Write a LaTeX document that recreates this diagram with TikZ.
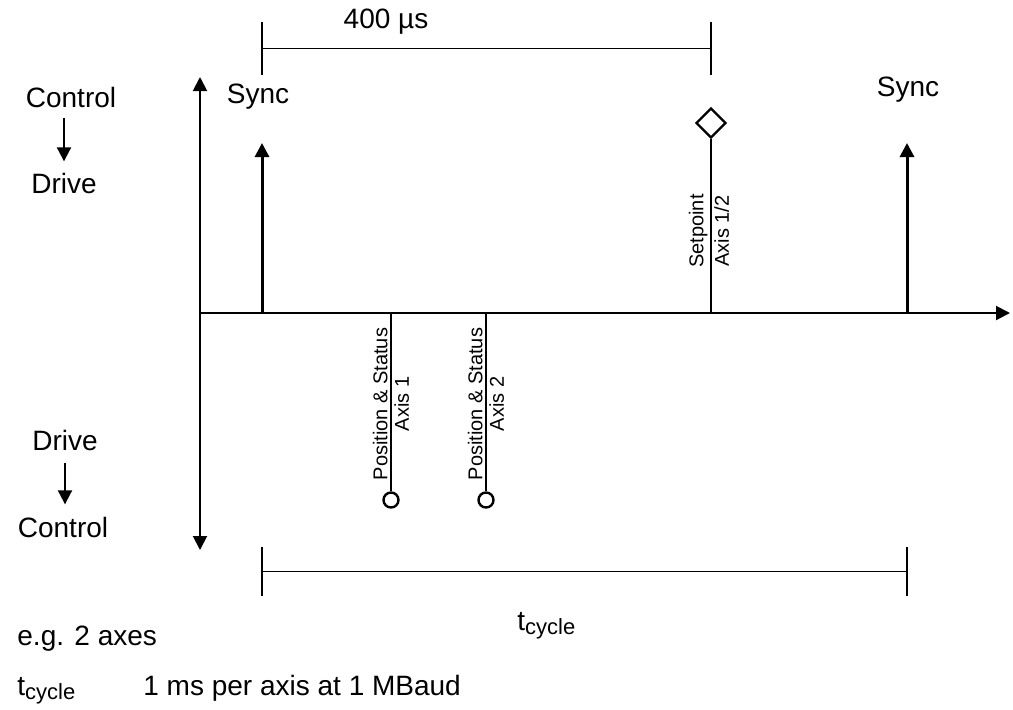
\documentclass[tikz,border=0pt]{standalone}
\usepackage{fontspec}
\setmainfont{Liberation Sans}
\usetikzlibrary{arrows.meta,positioning,shapes.geometric,calc}

\tikzset{
  tip/.style={-{Triangle[width=7pt,length=7pt]}},
  tips/.style={{Triangle[width=7pt,length=7pt]}-{Triangle[width=7pt,length=7pt]}},
  axisline/.style={line width=1pt},
  pulse/.style={line width=1.5pt},
  stem/.style={line width=1.2pt},
  span/.style={line width=0.9pt},
  lbl/.style={font=\fontsize{14}{16}\selectfont, inner sep=0pt},
  vlbl/.style={font=\fontsize{10}{12}\selectfont, rotate=90, inner sep=1.5pt},
  endmark/.style={draw, circle, line width=1.2pt, minimum size=7.5pt, inner sep=0pt},
}
\newcommand{\tcyc}{t\raisebox{-2pt}{\fontsize{11}{12}\selectfont cycle}}

\begin{document}
\begin{tikzpicture}[x=0.5pt,y=-0.5pt]
    \useasboundingbox (0,0) rectangle (1013,709);

    % Axes
    \coordinate (o) at (200,313);
    \coordinate (top) at (200,77);
    \coordinate (bot) at (200,550);
    \coordinate (end) at (1010,313);
    \draw[axisline,tips] (bot) -- (top);
    \draw[axisline,tip] (o) -- (end);

    % Direction labels
    \node[lbl] (ctl1) at (71,97) {Control};
    \node[lbl] (drv1) at (64,183) {Drive};
    \draw[axisline,tip,shorten <=5pt,shorten >=5.5pt] (ctl1.south -| drv1.north) -- (drv1.north);
    \node[lbl] (drv2) at (65,440) {Drive};
    \node[lbl] (ctl2) at (63,527) {Control};
    \draw[axisline,tip,shorten <=6pt,shorten >=6pt] (drv2.south) -- (drv2.south |- ctl2.north);

    % Sync pulses
    \coordinate (s1) at (262,313);
    \coordinate (s1t) at (262,143);
    \coordinate (s2) at (907,313);
    \coordinate (s2t) at (907,143);
    \draw[pulse,tip] (s1) -- (s1t);
    \draw[pulse,tip] (s2) -- (s2t);
    \node[lbl] (sync1) at (258,97) {Sync};
    \node[lbl] (sync2) at (908,90) {Sync};

    % Setpoint
    \coordinate (sp) at (711,313);
    \node[draw, diamond, line width=1.2pt, minimum size=15pt, inner sep=0pt] (spd) at (711,123) {};
    \draw[stem] (sp) -- (spd.south);
    \node[vlbl, anchor=south] (spa) at (711,231) {Setpoint};
    \node[vlbl, anchor=north] (spb) at (711,231) {Axis 1/2};

    % Position & status
    \coordinate (p1) at (391,313);
    \coordinate (p2) at (486,313);
    \node[endmark] (c1) at (391,500) {};
    \node[endmark] (c2) at (486,500) {};
    \draw[stem] (p1) -- (c1.north);
    \draw[stem] (p2) -- (c2.north);
    \node[vlbl, anchor=south] (pa1) at (391,404) {Position \& Status};
    \node[vlbl, anchor=north] (pb1) at (391,404) {Axis 1};
    \node[vlbl, anchor=south] (pa2) at (486,404) {Position \& Status};
    \node[vlbl, anchor=north] (pb2) at (486,404) {Axis 2};

    % 400 us span
    \coordinate (a1) at (262,22);
    \coordinate (a2) at (262,75);
    \coordinate (b1) at (711,22);
    \coordinate (b2) at (711,75);
    \draw[span] (a1) -- (a2);
    \draw[span] (b1) -- (b2);
    \draw[span] ($(a1)!0.5!(a2)$) -- ($(b1)!0.5!(b2)$);
    \node[lbl] (us) at (386,22) {400 µs};

    % cycle span
    \coordinate (c3) at (262,547);
    \coordinate (c4) at (262,596);
    \coordinate (c5) at (907,547);
    \coordinate (c6) at (907,596);
    \draw[span] (c3) -- (c4);
    \draw[span] (c5) -- (c6);
    \draw[span] ($(c3)!0.5!(c4)$) -- ($(c5)!0.5!(c6)$);
    \node[lbl, anchor=base west] (tc) at (517,630) {\tcyc};

    % Notes
    \node[lbl, anchor=base west] (eg) at (17,645) {e.g. 2 axes};
    \node[lbl, anchor=base west] (tn) at (17,695) {\tcyc};
    \node[lbl, anchor=base west] (tt) at (143,695) {1 ms per axis at 1 MBaud};
\end{tikzpicture}
\end{document}
